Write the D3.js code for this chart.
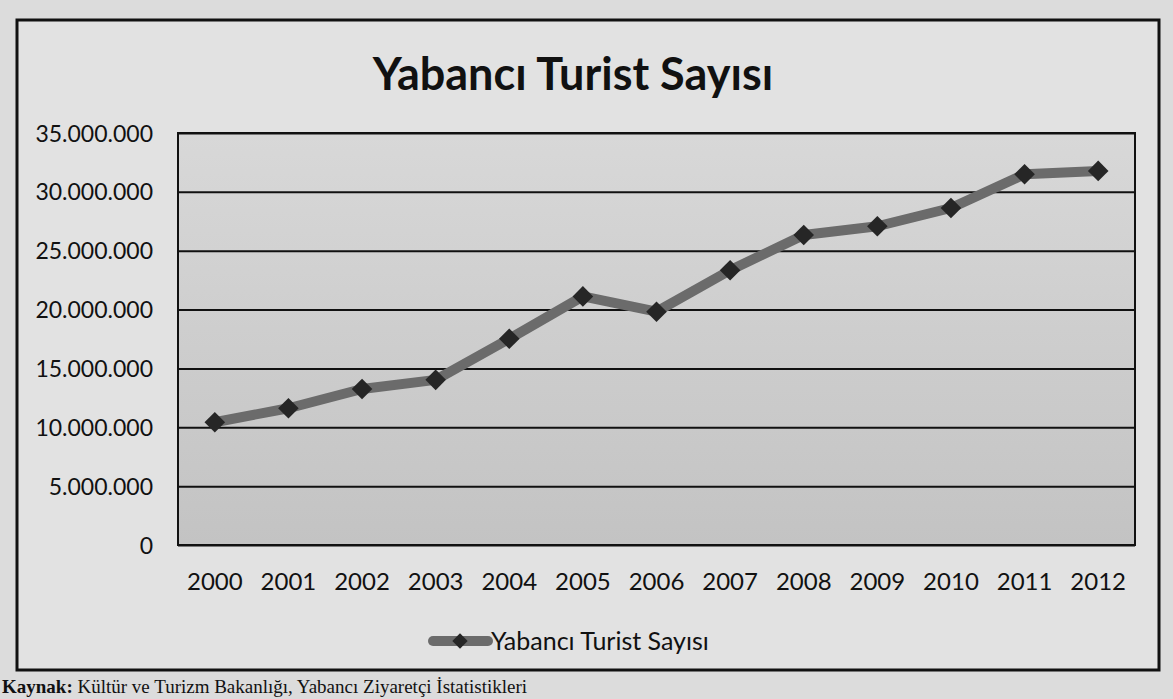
<!DOCTYPE html>
<meta charset="utf-8">
<style>
  html, body { margin: 0; padding: 0; background: #dcdcdc; }
  .chart text { font-family: Lato, "Open Sans", sans-serif; fill: #111; }
  .chart .title { font-size: 45px; font-weight: bold; text-anchor: middle; }
  .chart .ylab { font-size: 23px; text-anchor: end; }
  .chart .xlab { font-size: 24px; text-anchor: middle; }
  .chart .leg { font-size: 25px; }
  .chart .src { font-family: "Liberation Serif", serif; font-size: 19px; }
</style>
<body>
<svg class="chart"></svg>
<script src="https://cdn.jsdelivr.net/npm/d3@7"></script>
<script>
  // chart data
  var years = ["2000", "2001", "2002", "2003", "2004", "2005", "2006",
               "2007", "2008", "2009", "2010", "2011", "2012"];
  var tourists = [10430000, 11620000, 13250000, 14030000, 17520000, 21120000,
                  19820000, 23340000, 26340000, 27080000, 28630000, 31500000, 31780000];
  var yTicks = [0, 5000000, 10000000, 15000000, 20000000, 25000000, 30000000, 35000000];
  var titleText = "Yabancı Turist Sayısı";
  var seriesName = "Yabancı Turist Sayısı";

  var w = 1173, h = 699;
  var plot = { left: 178, right: 1135, top: 133, bottom: 545 };

  var svg = d3.select(".chart")
      .attr("width", w)
      .attr("height", h);

  var defs = svg.append("defs");
  var grad = defs.append("linearGradient")
      .attr("id", "plotfill")
      .attr("x1", 0).attr("y1", 0).attr("x2", 0).attr("y2", 1);
  grad.append("stop").attr("offset", "0%").attr("stop-color", "#d8d8d8");
  grad.append("stop").attr("offset", "100%").attr("stop-color", "#c3c3c3");

  // outer frame
  svg.append("rect")
      .attr("x", 17).attr("y", 20)
      .attr("width", 1142).attr("height", 650)
      .attr("fill", "#e2e2e2")
      .attr("stroke", "#111")
      .attr("stroke-width", 3);

  svg.append("text")
      .attr("class", "title")
      .attr("x", 573).attr("y", 90)
      .text(titleText);

  var x = d3.scaleBand()
      .domain(years)
      .range([plot.left, plot.right]);

  var y = d3.scaleLinear()
      .domain([0, 35000000])
      .range([plot.bottom, plot.top]);

  svg.append("rect")
      .attr("x", plot.left).attr("y", plot.top)
      .attr("width", plot.right - plot.left)
      .attr("height", plot.bottom - plot.top)
      .attr("fill", "url(#plotfill)")
      .attr("stroke", "#111")
      .attr("stroke-width", 2);

  var fmt = function (v) { return d3.format(",")(v).replace(/,/g, "."); };

  // grid lines + y labels
  var yAxis = d3.axisLeft(y)
      .tickValues(yTicks)
      .tickSize(-(plot.right - plot.left))
      .tickFormat(fmt);

  var ga = svg.append("g")
      .attr("transform", "translate(" + plot.left + ",0)")
      .call(yAxis);
  ga.select(".domain").remove();
  ga.selectAll(".tick line").attr("stroke", "#111").attr("stroke-width", 2);
  ga.selectAll(".tick text")
      .attr("class", "ylab")
      .attr("x", -25)
      .attr("dy", "0.35em");

  // x labels
  var xAxis = d3.axisBottom(x).tickSize(0);
  var gx = svg.append("g")
      .attr("transform", "translate(0," + plot.bottom + ")")
      .call(xAxis);
  gx.select(".domain").remove();
  gx.selectAll(".tick text")
      .attr("class", "xlab")
      .attr("y", 45)
      .attr("dy", 0);

  var cx = function (d, i) { return x(years[i]) + x.bandwidth() / 2; };

  var line = d3.line()
      .x(function (d, i) { return cx(d, i); })
      .y(function (d) { return y(d); });

  svg.append("path")
      .datum(tourists)
      .attr("d", line)
      .attr("fill", "none")
      .attr("stroke", "#6b6b6b")
      .attr("stroke-width", 10)
      .attr("stroke-linejoin", "round");

  var diamond = d3.symbol().type(d3.symbolDiamond2).size(270);

  svg.selectAll(".pt")
      .data(tourists)
      .enter().append("path")
      .attr("class", "pt")
      .attr("d", diamond)
      .attr("transform", function (d, i) { return "translate(" + cx(d, i) + "," + y(d) + ")"; })
      .attr("fill", "#262626");

  // legend
  var lg = svg.append("g").attr("transform", "translate(0,641)");
  lg.append("line")
      .attr("x1", 433).attr("x2", 488)
      .attr("y1", 0).attr("y2", 0)
      .attr("stroke", "#6b6b6b")
      .attr("stroke-width", 10)
      .attr("stroke-linecap", "round");
  lg.append("path")
      .attr("d", d3.symbol().type(d3.symbolDiamond2).size(150))
      .attr("transform", "translate(460,0)")
      .attr("fill", "#262626");
  lg.append("text")
      .attr("class", "leg")
      .attr("x", 491).attr("y", 9)
      .text(seriesName);

  // source line below the frame
  var src = svg.append("text")
      .attr("class", "src")
      .attr("x", 2).attr("y", 693);
  src.append("tspan").attr("font-weight", "bold").text("Kaynak: ");
  src.append("tspan").text("Kültür ve Turizm Bakanlığı, Yabancı Ziyaretçi İstatistikleri");
</script>
</body>
